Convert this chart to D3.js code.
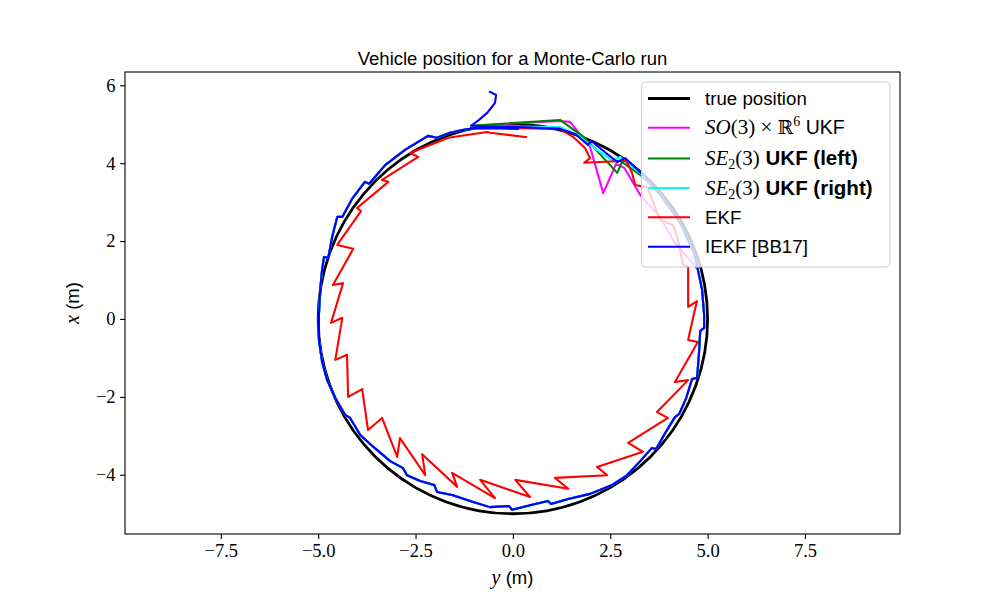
<!DOCTYPE html>
<html><head><meta charset="utf-8">
<script src="https://cdn.jsdelivr.net/npm/d3@7"></script>
<style>body{margin:0;background:#fff}</style>
</head><body>
<svg id="c" width="1000" height="600"></svg>
<script>
// ---------- data (horizontal = y position, vertical = x position, metres) ----------
const xTickValues = [-7.5, -5.0, -2.5, 0.0, 2.5, 5.0, 7.5];
const yTickValues = [-4, -2, 0, 2, 4, 6];
const titleText = "Vehicle position for a Monte-Carlo run";

// true position (circle of radius 5)
const truePosY = [0,0.868,1.710,2.5,3.214,3.830,4.330,4.698,4.924,5,4.924,4.698,4.330,3.830,3.214,2.5,1.710,0.868,0,-0.868,-1.710,-2.5,-3.214,-3.830,-4.330,-4.698,-4.924,-5,-4.924,-4.698,-4.330,-3.830,-3.214,-2.5,-1.710,-0.868,0];
const truePosX = [5,4.924,4.698,4.330,3.830,3.214,2.5,1.710,0.868,0,-0.868,-1.710,-2.5,-3.214,-3.830,-4.330,-4.698,-4.924,-5,-4.924,-4.698,-4.330,-3.830,-3.214,-2.5,-1.710,-0.868,0,0.868,1.710,2.5,3.214,3.830,4.330,4.698,4.924,5];

// shared loop followed by the IEKF and the three UKFs after the first quarter turn
const loopY = [4.75,4.86,4.91,4.91,4.81,4.78,4.73,4.60,4.45,4.27,4.16,3.91,3.68,3.57,3.27,2.91,2.55,1.98,1.42,0.98,0.90,0.44,-0.02,-0.10,-0.59,-1.02,-1.56,-1.95,-2.02,-2.38,-2.72,-2.82,-3.15,-3.49,-3.61,-3.92,-4.18,-4.31,-4.56,-4.77,-4.90,-4.98,-4.98,-4.95,-4.90,-4.85,-4.74,-4.64,-4.51,-4.38,-4.13,-3.80,-3.69,-3.28,-2.77,-2.18,-1.95,-1.61,-1.30,-0.97,-0.33,0.13];
const loopX = [1.26,0.74,0.10,-0.23,-0.31,-0.85,-1.51,-1.54,-2.03,-2.44,-2.52,-2.93,-3.34,-3.31,-3.65,-4.03,-4.26,-4.49,-4.62,-4.75,-4.67,-4.78,-4.90,-4.80,-4.83,-4.70,-4.52,-4.44,-4.26,-4.16,-4.01,-3.83,-3.65,-3.36,-3.26,-2.98,-2.54,-2.46,-2.03,-1.57,-1.10,-0.54,0.10,0.74,1.26,1.59,1.57,2.11,2.62,2.62,3.08,3.52,3.47,3.95,4.34,4.70,4.65,4.78,4.85,4.90,4.90,4.88];

const so3HeadY = [-1.07,1.21,1.47,1.98,2.32,2.65,2.86,3.27,3.78,4.16,4.55];
const so3HeadX = [4.96,5.08,5.06,4.42,3.23,3.98,3.88,3.18,2.62,1.95,1.51];
const leftHeadY = [-1.07,1.21,1.85,2.68,2.80,3.27,3.79,4.29,4.65];
const leftHeadX = [4.96,5.11,4.65,3.75,4.03,3.70,3.18,2.48,1.69];
const rightHeadY = [-1.07,1.21,1.67,1.98,2.57,2.75,3.27,3.79,4.29,4.65];
const rightHeadX = [4.96,4.93,4.72,4.47,4.06,4.16,3.75,3.18,2.48,1.69];
const iekfHeadY = [-0.59,-0.43,-0.46,-0.66,-0.87,-1.07,0.18,1.21,1.60,1.93,2.01,2.68,2.88,3.27,3.79,4.29,4.65];
const iekfHeadX = [5.83,5.75,5.55,5.29,5.11,4.96,4.93,4.88,4.75,4.47,4.57,4.03,4.13,3.77,3.18,2.48,1.69];

const ekfY = [-1.07,0.06,1.21,1.55,1.85,1.98,1.83,2.91,3.06,3.14,3.29,3.45,3.78,4.11,4.22,4.37,4.50,4.50,4.73,4.63,4.50,4.75,4.16,4.50,3.70,3.98,2.96,3.34,2.16,2.42,1.08,1.42,0.06,0.44,-0.84,-0.46,-1.56,-1.43,-2.33,-2.25,-2.90,-2.97,-3.36,-3.72,-3.87,-4.23,-4.26,-4.56,-4.38,-4.67,-4.36,-4.62,-4.10,-4.51,-3.90,-4.00,-3.20,-3.36,-2.43,-2.64,-1.66,-0.66,-0.59,0.34];
const ekfX = [4.90,4.90,4.88,4.67,4.39,4.13,4.01,4.06,3.75,3.44,3.41,3.39,2.54,2.41,2.11,1.39,1.34,0.31,0.46,0.05,-0.54,-0.59,-1.62,-1.57,-2.39,-2.54,-3.18,-3.41,-3.80,-4.01,-4.08,-4.36,-4.13,-4.57,-4.13,-4.60,-3.95,-4.31,-3.47,-4.01,-3.06,-3.54,-2.54,-2.85,-1.80,-2.00,-0.92,-1.05,0.03,-0.10,0.92,0.87,1.80,1.90,2.77,2.85,3.52,3.57,4.16,4.26,4.65,4.80,4.78,4.67];

const seriesNames = ["true position","SO3 UKF","SE2 left","SE2 right","EKF","IEKF [BB17]"];
const seriesColors = ["#000000","#ff00ff","#008000","#00ffff","#ff0000","#0000ff"];

// ---------- build ----------
function pts(ys, xs){ const n=Math.min(ys.length, xs.length); const a=[]; for(let i=0;i<n;i++) a.push([ys[i], xs[i]]); return a; }
const series = [
  {pts: pts(truePosY, truePosX), color: seriesColors[0], w: 2.78, curve: d3.curveCatmullRom},
  {pts: pts(so3HeadY.concat(loopY), so3HeadX.concat(loopX)), color: seriesColors[1], w: 2.08},
  {pts: pts(leftHeadY.concat(loopY), leftHeadX.concat(loopX)), color: seriesColors[2], w: 2.08},
  {pts: pts(rightHeadY.concat(loopY), rightHeadX.concat(loopX)), color: seriesColors[3], w: 2.08},
  {pts: pts(ekfY, ekfX), color: seriesColors[4], w: 2.08},
  {pts: pts(iekfHeadY.concat(loopY), iekfHeadX.concat(loopX)), color: seriesColors[5], w: 2.08},
];

const svg = d3.select("#c");
const L = 125, R = 900, T = 72, B = 534;
const x = d3.scaleLinear().domain([-9.96, 9.94]).range([L, R]);
const y = d3.scaleLinear().domain([-5.52, 6.34]).range([B, T]);

const serif = "'Liberation Serif', 'DejaVu Serif', serif";
const sans = "'Liberation Sans', 'DejaVu Sans', sans-serif";

svg.append("clipPath").attr("id","clp").append("rect").attr("x",L).attr("y",T).attr("width",R-L).attr("height",B-T);
const g = svg.append("g").attr("clip-path","url(#clp)");
series.forEach(s => {
  g.append("path").datum(s.pts)
    .attr("d", d3.line().x(d=>x(d[0])).y(d=>y(d[1])).curve(s.curve || d3.curveLinear))
    .attr("fill","none").attr("stroke", s.color).attr("stroke-width", s.w)
    .attr("stroke-linejoin","round").attr("stroke-linecap","square");
});

// axes
const fmtMinus = s => s.replace("-", "\u2212");
const xAxis = d3.axisBottom(x).tickValues(xTickValues).tickSizeInner(4.9).tickSizeOuter(0).tickPadding(4.5)
  .tickFormat(d => fmtMinus(d.toFixed(1)));
const yAxis = d3.axisLeft(y).tickValues(yTickValues).tickSizeInner(4.9).tickSizeOuter(0).tickPadding(4.5)
  .tickFormat(d => fmtMinus(String(d)));
const gx = svg.append("g").attr("transform",`translate(0,${B})`).call(xAxis);
const gy = svg.append("g").attr("transform",`translate(${L},0)`).call(yAxis);
[gx, gy].forEach(a => {
  a.select(".domain").remove();
  a.selectAll(".tick line").attr("stroke","#000").attr("stroke-width",1.1);
  a.selectAll(".tick text").attr("font-family", serif).attr("font-size", 18.5).attr("fill","#000");
});
svg.append("rect").attr("x",L).attr("y",T).attr("width",R-L).attr("height",B-T)
  .attr("fill","none").attr("stroke","#000").attr("stroke-width",1.1);

// title
svg.append("text").attr("x",(L+R)/2).attr("y",65).attr("text-anchor","middle")
  .attr("font-family",sans).attr("font-size",18.5).text(titleText);

// axis labels
const xl = svg.append("text").attr("x",(L+R)/2).attr("y",584).attr("text-anchor","middle")
  .attr("font-family",sans).attr("font-size",18.5);
xl.append("tspan").attr("font-family",serif).attr("font-style","italic").attr("font-size",20).text("y");
xl.append("tspan").text(" (m)");
const yl = svg.append("text").attr("transform","translate(79,303) rotate(-90)").attr("text-anchor","middle")
  .attr("font-family",sans).attr("font-size",18.5);
yl.append("tspan").attr("font-family",serif).attr("font-style","italic").attr("font-size",20).text("x");
yl.append("tspan").text(" (m)");

// legend
const lg = svg.append("g");
lg.append("rect").attr("x",641.5).attr("y",82).attr("width",248.5).attr("height",185).attr("rx",4)
  .attr("fill","#fff").attr("fill-opacity",0.8).attr("stroke","#cccccc").attr("stroke-width",1);
const rowY = [98.5, 127.8, 158.5, 188, 217.3, 246.7];
series.forEach((s,i) => {
  lg.append("line").attr("x1",648).attr("x2",690).attr("y1",rowY[i]).attr("y2",rowY[i])
    .attr("stroke",s.color).attr("stroke-width",s.w);
});
const fs = 18.7;
function row(i){ return lg.append("text").attr("x",705).attr("y",rowY[i]+6.5).attr("font-family",sans).attr("font-size",fs); }
row(0).text(seriesNames[0]);
{ const t = row(1);
  t.append("tspan").attr("font-family",serif).attr("font-style","italic").attr("font-size",21).text("SO");
  t.append("tspan").attr("font-family",serif).attr("font-size",21).text("(3) \u00d7 ");
  t.append("tspan").attr("font-family","'DejaVu Serif', serif").attr("font-size",19).text("\u211d");
  t.append("tspan").attr("font-family",serif).attr("font-size",14).attr("dy",-8).text("6");
  t.append("tspan").attr("dy",8).attr("font-size",19.5).text(" UKF"); }
[2,3].forEach(i => {
  const t = row(i);
  t.append("tspan").attr("font-family",serif).attr("font-style","italic").attr("font-size",21).text("SE");
  t.append("tspan").attr("font-family",serif).attr("font-size",14).attr("dy",4).text("2");
  t.append("tspan").attr("font-family",serif).attr("font-size",21).attr("dy",-4).text("(3)");
  t.append("tspan").attr("font-weight","bold").attr("font-size",20.5).text(i===2 ? " UKF (left)" : " UKF (right)");
});
row(4).text(seriesNames[4]);
row(5).text(seriesNames[5]);
</script>
</body></html>
